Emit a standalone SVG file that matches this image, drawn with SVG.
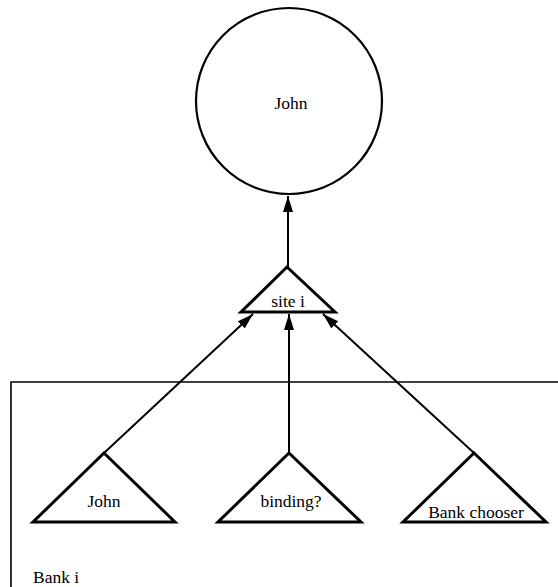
<svg xmlns="http://www.w3.org/2000/svg" width="558" height="587" viewBox="0 0 558 587">
<style>
text{font-family:"Liberation Serif","Times New Roman",serif;font-size:17.5px;fill:#000;text-anchor:middle}
.edge{stroke:#000;stroke-width:2;fill:none}
.tri{fill:#fff;stroke:#000;stroke-width:3;stroke-linejoin:miter}
</style>
<defs>
<marker id="arr" markerUnits="userSpaceOnUse" markerWidth="17" markerHeight="11" refX="16" refY="5" orient="auto">
<path d="M0,0 L16,5 L0,10 z" fill="#000"/>
</marker>
</defs>
<rect width="558" height="587" fill="#fff"/>
<g id="bank-box">
<path d="M11,587 L11,382 L558,382" fill="none" stroke="#000" stroke-width="1.6"/>
<text x="33" y="583" style="text-anchor:start">Bank i</text>
</g>
<g id="connectors">
<line class="edge" x1="288" y1="267" x2="288" y2="196" marker-end="url(#arr)"/>
<line class="edge" x1="104" y1="453" x2="253" y2="314" marker-end="url(#arr)"/>
<line class="edge" x1="289" y1="453" x2="289" y2="314" marker-end="url(#arr)"/>
<line class="edge" x1="474" y1="453" x2="323" y2="314" marker-end="url(#arr)"/>
</g>
<g id="john-top">
<circle cx="289" cy="101" r="93" fill="none" stroke="#000" stroke-width="2.2"/>
<text x="291" y="109">John</text>
</g>
<g id="site-i">
<polygon class="tri" points="287,267 241,312 335,312" stroke-width="2.5"/>
<text x="288" y="307">site i</text>
</g>
<g id="john">
<polygon class="tri" points="104,453 33,522 175,522"/>
<text x="104" y="507">John</text>
</g>
<g id="binding">
<polygon class="tri" points="289,453 218,522 361,522"/>
<text x="291" y="507">binding?</text>
</g>
<g id="bank-chooser">
<polygon class="tri" points="474,453 403,522 546,522"/>
<text x="476" y="518">Bank chooser</text>
</g>
</svg>
